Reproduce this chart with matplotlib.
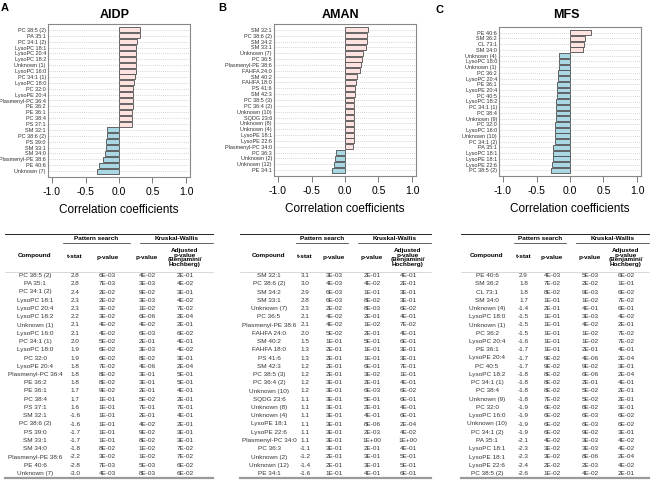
import matplotlib
matplotlib.use("Agg")
import matplotlib.pyplot as plt

plt.rcParams['font.family'] = ['Liberation Sans', 'DejaVu Sans']

# ---- data: AIDP ----
aidp_names = ["PC 38:5 (2)", "PA 35:1", "PC 34:1 (2)", "LysoPC 18:1", "LysoPC 20:4",
              "LysoPC 18:2", "Unknown (1)", "LysoPC 16:0", "PC 34:1 (1)", "LysoPC 18:0",
              "PC 32:0", "LysoPE 20:4", "Plasmenyl-PC 36:4", "PE 36:2", "PE 36:1",
              "PC 38:4", "PS 37:1", "SM 32:1", "PC 38:6 (2)", "PS 39:0", "SM 33:1",
              "SM 34:0", "Plasmenyl-PE 38:6", "PE 40:6", "Unknown (7)"]
aidp_corr = [0.315, 0.31, 0.275, 0.26, 0.26, 0.255, 0.25, 0.25, 0.24, 0.225, 0.215, 0.21,
             0.21, 0.205, 0.20, 0.20, 0.195, -0.185, -0.185, -0.195, -0.195, -0.205,
             -0.245, -0.30, -0.325]
aidp_t = [2.8, 2.8, 2.4, 2.3, 2.3, 2.2, 2.1, 2.1, 2.0, 1.9, 1.9, 1.8, 1.8, 1.8, 1.7, 1.7,
          1.6, -1.6, -1.6, -1.7, -1.7, -1.8, -2.2, -2.8, -3.0]
aidp_p = [6e-3, 7e-3, 2e-2, 2e-2, 3e-2, 3e-2, 4e-2, 4e-2, 5e-2, 6e-2, 6e-2, 7e-2, 8e-2,
          8e-2, 9e-2, 1e-1, 1e-1, 1e-1, 1e-1, 1e-1, 1e-1, 8e-2, 3e-2, 7e-3, 4e-3]
aidp_kw = [4e-2, 3e-3, 9e-2, 3e-3, 1e-2, 6e-6, 4e-2, 6e-3, 2e-1, 3e-3, 8e-2, 4e-6, 3e-1,
           3e-1, 2e-1, 5e-2, 7e-1, 2e-1, 4e-2, 9e-2, 8e-2, 1e-2, 1e-2, 5e-3, 8e-3]
aidp_adj = [2e-1, 4e-2, 3e-1, 4e-2, 7e-2, 2e-4, 2e-1, 6e-2, 4e-1, 4e-2, 3e-1, 2e-4, 5e-1,
            5e-1, 4e-1, 2e-1, 7e-1, 4e-1, 2e-1, 3e-1, 3e-1, 7e-2, 7e-2, 6e-2, 6e-2]

# ---- data: AMAN ----
aman_names = ["SM 32:1", "PC 38:6 (2)", "SM 34:2", "SM 33:1", "Unknown (7)", "PC 36:5",
              "Plasmenyl-PE 38:6", "FAHFA 24:0", "SM 40:2", "FAHFA 18:0", "PS 41:6",
              "SM 42:3", "PC 38:5 (3)", "PC 36:4 (2)", "Unknown (10)", "SQDG 23:6",
              "Unknown (8)", "Unknown (4)", "LysoPE 18:1", "LysoPE 22:6",
              "Plasmenyl-PC 34:0", "PC 36:3", "Unknown (2)", "Unknown (12)", "PE 34:1"]
aman_corr = [0.345, 0.335, 0.325, 0.32, 0.265, 0.25, 0.24, 0.23, 0.185, 0.16, 0.155, 0.15,
             0.14, 0.14, 0.135, 0.135, 0.13, 0.13, 0.13, 0.13, 0.12, -0.135, -0.15,
             -0.17, -0.19]
aman_t = [3.1, 3.0, 2.9, 2.8, 2.3, 2.1, 2.1, 2.0, 1.5, 1.3, 1.3, 1.2, 1.2, 1.2, 1.2, 1.1,
          1.1, 1.1, 1.1, 1.1, 1.1, -1.1, -1.2, -1.4, -1.6]
aman_p = [3e-3, 4e-3, 6e-3, 6e-3, 2e-2, 4e-2, 4e-2, 5e-2, 1e-1, 2e-1, 2e-1, 2e-1, 2e-1,
          3e-1, 3e-1, 3e-1, 3e-1, 3e-1, 3e-1, 3e-1, 3e-1, 3e-1, 2e-1, 2e-1, 1e-1]
aman_kw = [2e-1, 4e-2, 1e-1, 8e-2, 8e-3, 2e-1, 1e-2, 2e-1, 5e-1, 1e-1, 1e-1, 6e-1, 3e-2,
           2e-1, 6e-3, 5e-1, 2e-1, 4e-1, 8e-6, 2e-3, 1.0, 2e-1, 3e-1, 3e-1, 4e-1]
aman_adj = [4e-1, 2e-1, 3e-1, 3e-1, 6e-2, 4e-1, 7e-2, 4e-1, 6e-1, 3e-1, 3e-1, 7e-1, 1e-1,
            4e-1, 6e-2, 6e-1, 4e-1, 6e-1, 2e-4, 4e-2, 1.0, 4e-1, 5e-1, 5e-1, 6e-1]

# ---- data: MFS ----
mfs_names = ["PE 40:6", "SM 36:2", "CL 73:1", "SM 34:0", "Unknown (4)", "LysoPC 18:0",
             "Unknown (1)", "PC 36:2", "LysoPC 20:4", "PE 36:1", "LysoPE 20:4", "PC 40:5",
             "LysoPC 18:2", "PC 34:1 (1)", "PC 38:4", "Unknown (9)", "PC 32:0",
             "LysoPC 16:0", "Unknown (10)", "PC 34:1 (2)", "PA 35:1", "LysoPC 18:1",
             "LysoPE 18:1", "LysoPE 22:6", "PC 38:5 (2)"]
mfs_corr = [0.32, 0.22, 0.21, 0.19, -0.165, -0.17, -0.17, -0.175, -0.185, -0.195, -0.20,
            -0.20, -0.205, -0.21, -0.21, -0.215, -0.22, -0.22, -0.22, -0.23, -0.25, -0.26,
            -0.26, -0.27, -0.285]
mfs_t = [2.9, 1.8, 1.8, 1.7, -1.4, -1.5, -1.5, -1.5, -1.6, -1.7, -1.7, -1.7, -1.8, -1.8,
         -1.8, -1.8, -1.9, -1.9, -1.9, -1.9, -2.1, -2.3, -2.3, -2.4, -2.6]
mfs_p = [4e-3, 7e-2, 8e-2, 1e-1, 2e-1, 1e-1, 1e-1, 1e-1, 1e-1, 1e-1, 9e-2, 9e-2, 8e-2,
         8e-2, 8e-2, 7e-2, 6e-2, 6e-2, 6e-2, 6e-2, 4e-2, 3e-2, 3e-2, 2e-2, 1e-2]
mfs_kw = [5e-3, 2e-2, 9e-3, 1e-2, 4e-1, 3e-3, 4e-2, 1e-2, 1e-2, 2e-1, 4e-6, 9e-2, 6e-6,
          2e-1, 5e-2, 5e-2, 8e-2, 6e-3, 6e-3, 9e-2, 3e-3, 3e-3, 8e-6, 2e-3, 4e-2]
mfs_adj = [6e-2, 1e-1, 6e-2, 7e-2, 6e-1, 4e-2, 2e-1, 7e-2, 7e-2, 4e-1, 2e-4, 3e-1, 2e-4,
           4e-1, 2e-1, 2e-1, 3e-1, 6e-2, 6e-2, 3e-1, 4e-2, 4e-2, 2e-4, 4e-2, 2e-1]

W, H = 658, 480
fig = plt.figure(figsize=(W / 100, H / 100), dpi=100)

# overlay axes in pixel coordinates for tables and labels
ov = fig.add_axes([0, 0, 1, 1])
ov.set_xlim(0, W)
ov.set_ylim(H, 0)
ov.axis('off')


def bar_panel(l, t, r, b, names, corr):
    ax = fig.add_axes([l / W, 1 - b / H, (r - l) / W, (b - t) / H])
    n = len(names)
    ypos = list(range(n))
    cols = ['#fde2e0' if c > 0 else '#a9d7e4' for c in corr]
    for y in ypos:
        ax.axhline(y, color='#c8c8c8', lw=0.5, ls=(0, (1.5, 1.5)), zorder=0)
    ax.barh(ypos, corr, height=0.85, color=cols, edgecolor='#4d4d4d', linewidth=0.6,
            zorder=2)
    ax.set_ylim(25.0, -1.0)
    ax.set_xlim(-1.06, 1.06)
    ax.set_yticks(ypos)
    ax.set_yticklabels(names, fontsize=4.0, color='#333333')
    ax.tick_params(axis='y', length=0, pad=1.5)
    ax.set_xticks([-1, -0.5, 0, 0.5, 1])
    ax.set_xticklabels(['-1.0', '-0.5', '0.0', '0.5', '1.0'], fontsize=7.5)
    ax.tick_params(axis='x', length=4, width=0.6, color='#666666', pad=3)
    for s in ax.spines.values():
        s.set_color('#888888')
        s.set_linewidth(0.8)
    ax.set_xlabel('Correlation coefficients', fontsize=8.5, labelpad=5)
    return ax


bar_panel(48, 24, 190, 177, aidp_names, aidp_corr)
bar_panel(274, 24, 416, 176, aman_names, aman_corr)
bar_panel(499, 27, 641, 176, mfs_names, mfs_corr)

# titles and panel letters
for x, title in [(115, 'AIDP'), (340, 'AMAN'), (566, 'MFS')]:
    ov.text(x, 15, title, ha='center', va='center', fontsize=9, fontweight='bold')
for x, y, lab in [(5, 8, 'A'), (222, 8, 'B'), (440, 10, 'C')]:
    ov.text(x, y, lab, ha='center', va='center', fontsize=8, fontweight='bold')


def table(left, right, cols, ps_span, kw_span, names, tvals, pvals, kwvals, adjvals):
    hs = 4.6
    ov.plot([left, right], [234, 234], color='#222222', lw=0.7)
    ov.text((ps_span[0] + ps_span[1]) / 2, 239, 'Pattern search', ha='center',
            va='center', fontsize=hs, fontweight='bold')
    ov.text((kw_span[0] + kw_span[1]) / 2, 239, 'Kruskal-Wallis', ha='center',
            va='center', fontsize=hs, fontweight='bold')
    ov.plot(ps_span, [242.5, 242.5], color='#222222', lw=0.5)
    ov.plot(kw_span, [242.5, 242.5], color='#222222', lw=0.5)
    ov.text(cols[0], 256, 'Compound', ha='center', va='center', fontsize=hs,
            fontweight='bold')
    ov.text(cols[1], 257, 't-stat', ha='center', va='center', fontsize=hs,
            fontweight='bold')
    ov.text(cols[2], 257, 'p-value', ha='center', va='center', fontsize=hs,
            fontweight='bold')
    ov.text(cols[3], 257, 'p-value', ha='center', va='center', fontsize=hs,
            fontweight='bold')
    ov.text(cols[4], 257.5, 'Adjusted\np-value\n(Benjamini/\nHochberg)', ha='center',
            va='center', fontsize=hs, fontweight='bold', linespacing=0.95)
    ov.plot([left, right], [271.5, 271.5], color='#bbbbbb', lw=0.4)
    y0, dy = 275.5, (473.5 - 275.5) / 24
    for i in range(len(names)):
        y = y0 + i * dy
        row = [names[i], f"{tvals[i]:.1f}", f"{pvals[i]:.0E}", f"{kwvals[i]:.0E}",
               f"{adjvals[i]:.0E}"]
        for x, s in zip(cols, row):
            ov.text(x, y, s, ha='center', va='center', fontsize=4.6, color='#333333')
    ov.plot([left, right], [477.5, 477.5], color='#9a9a9a', lw=1.6)


table(5, 213, [35, 75, 107.5, 147, 185], (63, 130), (140, 213),
      aidp_names, aidp_t, aidp_p, aidp_kw, aidp_adj)
table(240, 431, [269, 305, 334, 372, 408], (296, 348), (358, 431),
      aman_names, aman_t, aman_p, aman_kw, aman_adj)
table(461, 649, [487, 523.5, 552, 590, 626], (514, 566), (576, 649),
      mfs_names, mfs_t, mfs_p, mfs_kw, mfs_adj)

fig.savefig('out.png', dpi=100)
